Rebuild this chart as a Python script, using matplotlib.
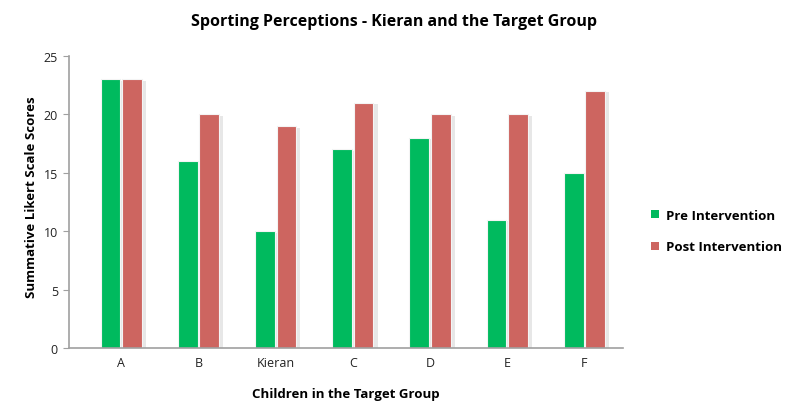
import numpy as np
import matplotlib
matplotlib.use("Agg")
import matplotlib.pyplot as plt
import matplotlib.patheffects as pe

plt.rcParams['font.family'] = ['Open Sans', 'DejaVu Sans']

children = ["A", "B", "Kieran", "C", "D", "E", "F"]
pre = [23, 16, 10, 17, 18, 11, 15]
post = [23, 20, 19, 21, 20, 20, 22]

green = '#00ba5e'
red = '#cd6560'

fig = plt.figure(figsize=(7.88, 4.02), dpi=100)
ax = fig.add_axes([0.0876, 0.132, 0.703, 0.726])

x = np.arange(len(children))
w = 0.255
shadow = [pe.SimplePatchShadow(offset=(3, -1), shadow_rgbFace='#d8d8d8', alpha=0.6), pe.Normal()]
b1 = ax.bar(x - 0.138, pre, w, color=green, edgecolor='#f4f4f4', linewidth=0.8,
            label='Pre Intervention', path_effects=shadow)
b2 = ax.bar(x + 0.14, post, w, color=red, edgecolor='#f4f4f4', linewidth=0.8,
            label='Post Intervention', path_effects=shadow)

ax.set_xlim(-0.675, 6.5)
ax.set_ylim(0, 25)
ax.set_yticks([0, 5, 10, 15, 20, 25])
ax.set_xticks(x)
ax.set_xticklabels(children)
ax.tick_params(axis='both', labelsize=9, colors='#222222', length=0, pad=6)
ax.tick_params(axis='y', length=4, color='#a0a0a0', direction='out', pad=4)
for s in ['top', 'right']:
    ax.spines[s].set_visible(False)
ax.spines['left'].set_color('#a0a0a0')
ax.spines['bottom'].set_color('#a0a0a0')
ax.spines['left'].set_linewidth(1.2)
ax.spines['bottom'].set_linewidth(1.2)

ax.set_xlabel('Children in the Target Group', fontsize=9.5, fontweight='bold')
ax.xaxis.set_label_coords(0.5, -0.135)
ax.set_ylabel('Summative Likert Scale Scores', fontsize=9.5, fontweight='bold')
ax.yaxis.set_label_coords(-0.056, 0.52)
fig.text(0.5, 0.945, 'Sporting Perceptions - Kieran and the Target Group',
         ha='center', va='center', fontsize=11.5, fontweight='bold')

leg = ax.legend(loc='center left', bbox_to_anchor=(1.03, 0.40), frameon=False,
                fontsize=9.5, handlelength=0.6, handleheight=0.6, handletextpad=0.5,
                labelspacing=1.4)
for t in leg.get_texts():
    t.set_fontweight('bold')
for h in leg.legend_handles:
    h.set_path_effects([])
    h.set_edgecolor('none')

fig.savefig('out.png', dpi=100)
